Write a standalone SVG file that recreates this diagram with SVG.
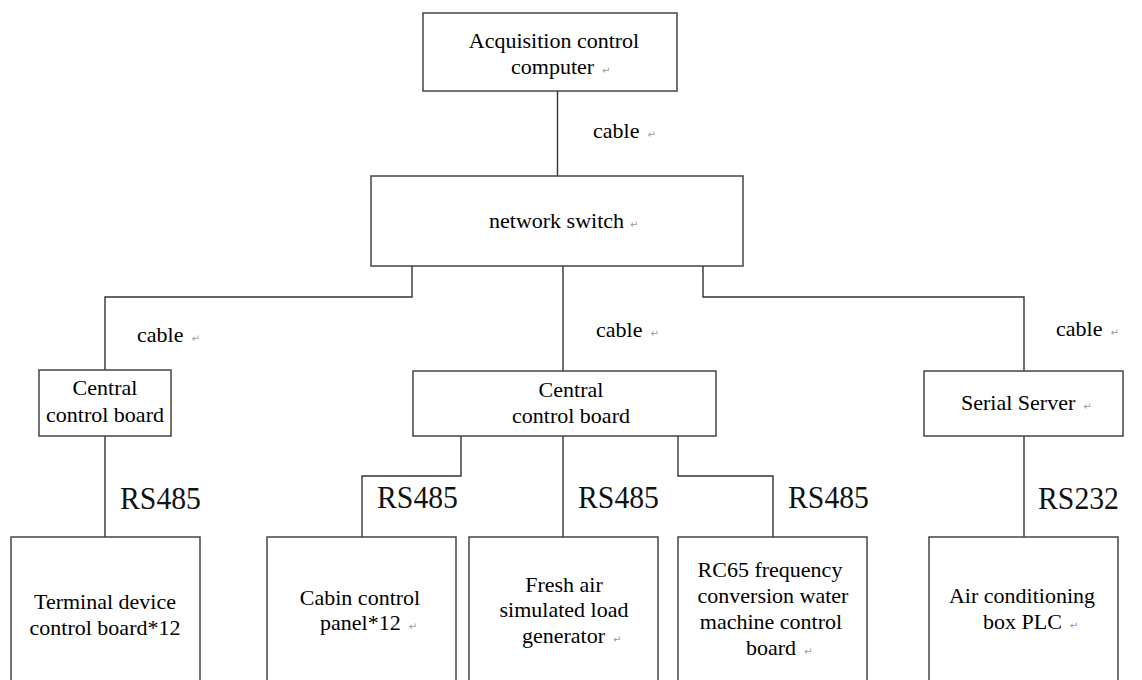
<svg xmlns="http://www.w3.org/2000/svg" width="1142" height="680" viewBox="0 0 1142 680">
<style>
.box{fill:#fff;stroke:#444;stroke-width:1.5}
.wire{fill:none;stroke:#333;stroke-width:1.4}
text{font-family:'Liberation Serif',Tinos,serif}
.t{font-size:22px;fill:#000}
.c{text-anchor:middle}
.rs{font-size:31px;fill:#111}
.pm{font-family:'DejaVu Sans',sans-serif;font-size:10px;fill:#999}
</style>
<rect width="1142" height="680" fill="#fff"/>
<g id="connectors">
<path class="wire" d="M557.5 91V176"/>
<path class="wire" d="M412 266V297H105V370"/>
<path class="wire" d="M563 266V371"/>
<path class="wire" d="M703 266V297H1024V371"/>
<path class="wire" d="M105 436V537"/>
<path class="wire" d="M461 436V476H362V537"/>
<path class="wire" d="M563 436V537"/>
<path class="wire" d="M678 436V476H773V537"/>
<path class="wire" d="M1024 436V537"/>
<text class="t" x="593" y="138">cable<tspan class="pm" dx="8">↵</tspan></text>
<text class="t" x="137" y="342">cable<tspan class="pm" dx="8">↵</tspan></text>
<text class="t" x="596" y="337">cable<tspan class="pm" dx="8">↵</tspan></text>
<text class="t" x="1056" y="336">cable<tspan class="pm" dx="8">↵</tspan></text>
<text class="rs" x="120" y="509" textLength="81" lengthAdjust="spacingAndGlyphs">RS485</text>
<text class="rs" x="377" y="508" textLength="81" lengthAdjust="spacingAndGlyphs">RS485</text>
<text class="rs" x="578" y="508" textLength="81" lengthAdjust="spacingAndGlyphs">RS485</text>
<text class="rs" x="788" y="508" textLength="81" lengthAdjust="spacingAndGlyphs">RS485</text>
<text class="rs" x="1038" y="509" textLength="81" lengthAdjust="spacingAndGlyphs">RS232</text>
</g>
<g id="computer">
<rect class="box" x="423" y="13" width="254" height="78"/>
<text class="t c" x="554" y="48">Acquisition control</text>
<text class="t" x="511" y="74">computer<tspan class="pm" dx="8">↵</tspan></text>
</g>
<g id="switch">
<rect class="box" x="371" y="176" width="372" height="90"/>
<text class="t" x="489" y="228">network switch<tspan class="pm" dx="6">↵</tspan></text>
</g>
<g id="board1">
<rect class="box" x="39" y="370" width="132" height="66"/>
<text class="t c" x="105" y="395">Central</text>
<text class="t c" x="105" y="422">control board</text>
</g>
<g id="board2">
<rect class="box" x="413" y="371" width="303" height="65"/>
<text class="t c" x="571" y="397">Central</text>
<text class="t c" x="571" y="423">control board</text>
</g>
<g id="serial">
<rect class="box" x="924" y="371" width="199" height="65"/>
<text class="t" x="961" y="410">Serial Server<tspan class="pm" dx="8">↵</tspan></text>
</g>
<g id="terminal">
<rect class="box" x="11" y="537" width="189" height="160"/>
<text class="t c" x="105" y="609">Terminal device</text>
<text class="t c" x="105" y="635">control board*12</text>
</g>
<g id="cabin">
<rect class="box" x="267" y="537" width="189" height="160"/>
<text class="t c" x="360" y="605">Cabin control</text>
<text class="t" x="320" y="630">panel*12<tspan class="pm" dx="8">↵</tspan></text>
</g>
<g id="fresh">
<rect class="box" x="469" y="537" width="189" height="160"/>
<text class="t c" x="564" y="592">Fresh air</text>
<text class="t c" x="564" y="617">simulated load</text>
<text class="t" x="522" y="643">generator<tspan class="pm" dx="8">↵</tspan></text>
</g>
<g id="rc65">
<rect class="box" x="678" y="537" width="189" height="160"/>
<text class="t c" x="770" y="577">RC65 frequency</text>
<text class="t c" x="773" y="603">conversion water</text>
<text class="t c" x="771" y="629">machine control</text>
<text class="t" x="746" y="655">board<tspan class="pm" dx="8">↵</tspan></text>
</g>
<g id="aircon">
<rect class="box" x="929" y="537" width="189" height="160"/>
<text class="t c" x="1022" y="603">Air conditioning</text>
<text class="t" x="983" y="629">box PLC<tspan class="pm" dx="8">↵</tspan></text>
</g>
</svg>
